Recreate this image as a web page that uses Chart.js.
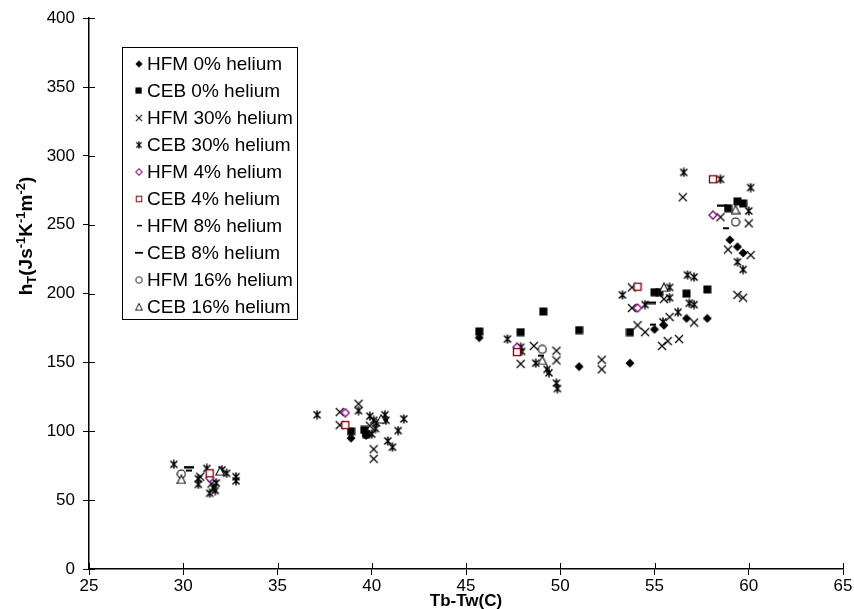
<!DOCTYPE html>
<html>
<head>
<meta charset="utf-8">
<script src="https://cdn.jsdelivr.net/npm/chart.js@4/dist/chart.umd.min.js"></script>
<style>
    html, body { margin: 0; padding: 0; background: #fff; }
    #wrap { width: 854px; height: 609px; }
</style>
</head>
<body>
<div id="wrap"><canvas id="chart" width="854" height="609"></canvas></div>
<script>
// Heat transfer coefficient vs. bulk-wall temperature difference, [Tb-Tw, hT]
const hfm0 = [[38.9, 95], [39.7, 97], [45.7, 168], [51.0, 147], [53.7, 149.5], [55.0, 174], [55.5, 177],
    [56.7, 182], [57.8, 182], [59.0, 239], [59.4, 234], [59.7, 229.5]];
const ceb0 = [[38.9, 100], [39.6, 101], [39.7, 98], [45.7, 172.5], [47.9, 172], [49.1, 187], [51.0, 173.5],
    [53.7, 172], [55.0, 201], [55.25, 201], [56.7, 200], [57.8, 203], [58.9, 262], [59.4, 267], [59.7, 265.5]];
const hfm30 = [[30.9, 67], [31.5, 62], [38.3, 114], [38.3, 104.5], [39.3, 120], [40.1, 87], [40.1, 80], [39.9, 104],
    [47.9, 149], [48.6, 162], [49.8, 158.5], [49.8, 151.5], [52.2, 152], [52.2, 145], [53.8, 204.5], [53.8, 189.5],
    [54.1, 177], [54.5, 172], [55.5, 196], [55.8, 183], [57.1, 179], [55.4, 162], [55.7, 165.5], [56.3, 167],
    [56.5, 270], [58.5, 255.5], [60.0, 251], [58.9, 232], [60.1, 228], [59.4, 199], [59.7, 197]];
const ceb30 = [[29.5, 76], [30.8, 65.5], [30.8, 61.5], [31.25, 73], [31.4, 55], [31.6, 59], [31.75, 62.5], [31.7, 57],
    [32.05, 72], [32.3, 69.5], [32.8, 67], [32.8, 64],
    [37.1, 112], [39.3, 115], [39.9, 111], [40.1, 108], [40.25, 106], [40.2, 102], [40.0, 98], [40.7, 112],
    [40.75, 108], [41.7, 109], [41.4, 100.5], [40.85, 93], [41.1, 88.5],
    [47.2, 167], [47.9, 161], [47.95, 158], [48.7, 149.5], [49.3, 145], [49.4, 142.5], [49.8, 135], [49.85, 131],
    [53.3, 199], [54.5, 192], [55.8, 204.5], [55.8, 197], [56.75, 213.5], [57.1, 212], [56.85, 193], [57.1, 192],
    [55.45, 179.5], [56.25, 186.5], [56.55, 288], [58.5, 283], [60.1, 277], [60.0, 260], [59.4, 223], [59.7, 217.5]];
const hfm4 = [[31.4, 66], [38.6, 113.5], [47.7, 161], [54.1, 189.5], [58.1, 257]];
const ceb4 = [[31.4, 69.5], [38.6, 104.5], [47.7, 157.5], [54.1, 205], [58.1, 283]];
const hfm8 = [[30.3, 71.5], [49.0, 155], [54.9, 177.5], [58.8, 247.5]];
const ceb8 = [[30.3, 74], [40.6, 108], [54.8, 193.5], [58.6, 264]];
const hfm16 = [[29.9, 69], [49.05, 159.5], [59.3, 252]];
const ceb16 = [[29.9, 65], [31.95, 71], [40.5, 109], [49.05, 151.5], [55.5, 204.5], [59.3, 261]];

const seriesNames = ["HFM 0% helium", "CEB 0% helium", "HFM 30% helium", "CEB 30% helium", "HFM 4% helium",
    "CEB 4% helium", "HFM 8% helium", "CEB 8% helium", "HFM 16% helium", "CEB 16% helium"];
const seriesData = [hfm0, ceb0, hfm30, ceb30, hfm4, ceb4, hfm8, ceb8, hfm16, ceb16];

const xTicks = [25, 30, 35, 40, 45, 50, 55, 60, 65];
const yTicks = [0, 50, 100, 150, 200, 250, 300, 350, 400];

const FONT = "'Liberation Sans', Arial, sans-serif";

// Small canvases used as point styles, so the legend can reuse them
function marker(w, h, draw) {
    const c = document.createElement("canvas");
    c.width = w;
    c.height = h;
    draw(c.getContext("2d"));
    return c;
}

const markers = [
    marker(10, 10, (g) => { // filled diamond
        g.fillStyle = "#000";
        g.beginPath();
        g.moveTo(5, 0.5); g.lineTo(9.5, 5); g.lineTo(5, 9.5); g.lineTo(0.5, 5);
        g.closePath(); g.fill();
    }),
    marker(9, 9, (g) => { // filled square
        g.fillStyle = "#000";
        g.fillRect(0.5, 0.5, 8, 8);
    }),
    marker(10, 10, (g) => { // x
        g.strokeStyle = "#000"; g.lineWidth = 1.2;
        g.beginPath();
        g.moveTo(1, 1); g.lineTo(9, 9); g.moveTo(9, 1); g.lineTo(1, 9);
        g.stroke();
    }),
    marker(10, 10, (g) => { // x with vertical bar
        g.strokeStyle = "#000"; g.lineWidth = 1.5;
        g.beginPath();
        g.moveTo(1.5, 1.5); g.lineTo(8.5, 8.5); g.moveTo(8.5, 1.5); g.lineTo(1.5, 8.5);
        g.moveTo(5, 0.5); g.lineTo(5, 9.5);
        g.stroke();
    }),
    marker(10, 10, (g) => { // open diamond, purple
        g.fillStyle = "#fff"; g.strokeStyle = "#800080"; g.lineWidth = 1.3;
        g.beginPath();
        g.moveTo(5, 1); g.lineTo(9, 5); g.lineTo(5, 9); g.lineTo(1, 5);
        g.closePath(); g.fill(); g.stroke();
    }),
    marker(10, 10, (g) => { // open square, dark red
        g.fillStyle = "#fff"; g.strokeStyle = "#800000"; g.lineWidth = 1.3;
        g.fillRect(1, 1, 8, 8);
        g.strokeRect(1.5, 1.5, 7, 7);
    }),
    marker(6, 4, (g) => { // short dash
        g.fillStyle = "#000";
        g.fillRect(0, 1, 6, 2);
    }),
    marker(10, 4, (g) => { // long dash
        g.fillStyle = "#000";
        g.fillRect(0, 1, 10, 2.5);
    }),
    marker(10, 10, (g) => { // open circle
        g.fillStyle = "#fff"; g.strokeStyle = "#000"; g.lineWidth = 1.1;
        g.beginPath();
        g.arc(5, 5, 4, 0, Math.PI * 2);
        g.fill(); g.stroke();
    }),
    marker(10, 10, (g) => { // open triangle
        g.fillStyle = "#fff"; g.strokeStyle = "#000"; g.lineWidth = 1.1;
        g.beginPath();
        g.moveTo(5, 0.8); g.lineTo(9.3, 9); g.lineTo(0.7, 9);
        g.closePath(); g.fill(); g.stroke();
    }),
];

// Tick marks cross the axis lines: draw the inner half
const crossTicks = {
    id: "crossTicks",
    afterDatasetsDraw(chart) {
        const { ctx, chartArea: a, scales } = chart;
        ctx.save();
        ctx.strokeStyle = "#000";
        ctx.lineWidth = 1;
        ctx.beginPath();
        xTicks.forEach((v) => {
            const px = Math.round(scales.x.getPixelForValue(v)) + 0.5;
            ctx.moveTo(px, a.bottom);
            ctx.lineTo(px, a.bottom - 6);
        });
        yTicks.forEach((v) => {
            const py = Math.round(scales.y.getPixelForValue(v)) + 0.5;
            ctx.moveTo(a.left, py);
            ctx.lineTo(a.left + 6, py);
        });
        ctx.stroke();
        ctx.restore();
    },
};

// Legend box sitting inside the plot, plus the axis titles
const overlay = {
    id: "overlay",
    afterDraw(chart) {
        const ctx = chart.ctx;
        ctx.save();

        const box = { x: 122, y: 47, w: 175, h: 272 };
        ctx.fillStyle = "#fff";
        ctx.fillRect(box.x, box.y, box.w, box.h);
        ctx.strokeStyle = "#000";
        ctx.lineWidth = 1;
        ctx.strokeRect(box.x + 0.5, box.y + 0.5, box.w, box.h);

        ctx.font = "19px " + FONT;
        ctx.textBaseline = "middle";
        ctx.fillStyle = "#000";
        seriesNames.forEach((name, i) => {
            const y = box.y + 17 + i * 27;
            const m = markers[i];
            const w = m.width * 0.8, h = m.height * 0.8;
            ctx.drawImage(m, Math.round(139 - w / 2), Math.round(y - h / 2), w, h);
            ctx.fillText(name, 147, y + 1);
        });

        // x title
        ctx.font = "bold 17px " + FONT;
        ctx.textAlign = "center";
        ctx.textBaseline = "alphabetic";
        ctx.fillText("Tb-Tw(C)", (chart.chartArea.left + chart.chartArea.right) / 2, 606);

        // y title with subscript and superscripts
        const parts = [["h", 0], ["T", 4], ["(Js", 0], ["-1", -7], ["K", 0], ["-1", -7], ["m", 0], ["-2", -7], [")", 0]];
        const big = "bold 19px " + FONT;
        const small = "bold 13px " + FONT;
        let total = 0;
        parts.forEach(([t, off]) => {
            ctx.font = off ? small : big;
            total += ctx.measureText(t).width;
        });
        ctx.translate(26, 236);
        ctx.rotate(-Math.PI / 2);
        ctx.textAlign = "left";
        let x = -total / 2;
        parts.forEach(([t, off]) => {
            ctx.font = off ? small : big;
            ctx.fillText(t, x, 6 + off);
            x += ctx.measureText(t).width;
        });

        ctx.restore();
    },
};

new Chart(document.getElementById("chart"), {
    type: "scatter",
    data: {
        datasets: seriesData.map((pts, i) => ({
            label: seriesNames[i],
            data: pts.map(([x, y]) => ({ x, y })),
            pointStyle: markers[i],
            order: -i,
        })),
    },
    options: {
        responsive: false,
        animation: false,
        devicePixelRatio: 1,
        layout: { padding: { left: 0, top: 12, right: 11, bottom: 0 } },
        plugins: {
            legend: { display: false },
            tooltip: { enabled: false },
        },
        scales: {
            x: {
                type: "linear",
                min: xTicks[0],
                max: xTicks[xTicks.length - 1],
                afterBuildTicks: (s) => { s.ticks = xTicks.map((v) => ({ value: v })); },
                afterFit: (s) => { s.height = 40; },
                ticks: { color: "#000", font: { family: FONT, size: 17 }, padding: 1, maxRotation: 0 },
                grid: { drawOnChartArea: false, drawTicks: true, tickLength: 6, color: "#000", lineWidth: 1 },
                border: { color: "#000", width: 1.5 },
            },
            y: {
                type: "linear",
                min: yTicks[0],
                max: yTicks[yTicks.length - 1],
                afterBuildTicks: (s) => { s.ticks = yTicks.map((v) => ({ value: v })); },
                afterFit: (s) => { s.width = 89; },
                ticks: { color: "#000", font: { family: FONT, size: 17 }, padding: 8 },
                grid: { drawOnChartArea: false, drawTicks: true, tickLength: 6, color: "#000", lineWidth: 1 },
                border: { color: "#000", width: 1.5 },
            },
        },
    },
    plugins: [crossTicks, overlay],
});
</script>
</body>
</html>
